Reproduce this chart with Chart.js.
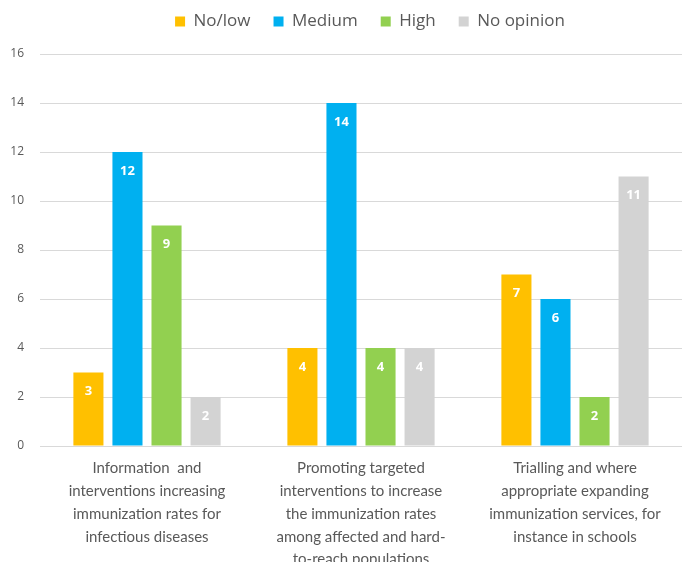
<!DOCTYPE html>
<html>
<head>
<meta charset="utf-8">
<script src="https://cdn.jsdelivr.net/npm/chart.js@4"></script>
<style>
  html, body { margin: 0; padding: 0; background: #fff; }
  #wrap { width: 682px; height: 562px; }
</style>
</head>
<body>
<div id="wrap"><canvas id="chart" width="682" height="562"></canvas></div>
<script>
const categories = [
  ['Information  and', 'interventions increasing', 'immunization rates for', 'infectious diseases'],
  ['Promoting targeted', 'interventions to increase', 'the immunization rates', 'among affected and hard-', 'to-reach populations'],
  ['Trialling and where', 'appropriate expanding', 'immunization services, for', 'instance in schools']
];
const seriesNames = ['No/low', 'Medium', 'High', 'No opinion'];
const noLow = [3, 4, 7];
const medium = [12, 14, 6];
const high = [9, 4, 2];
const noOpinion = [2, 4, 11];
const yTicks = [0, 2, 4, 6, 8, 10, 12, 14, 16];

const colors = ['#FFC000', '#00B0F0', '#92D050', '#D3D3D3'];
const textGrey = '#595959';

// white value labels just inside the top of each bar
const barValues = {
  id: 'barValues',
  afterDatasetsDraw(chart) {
    const ctx = chart.ctx;
    ctx.save();
    ctx.font = 'bold 13px "Open Sans", sans-serif';
    ctx.fillStyle = '#fff';
    ctx.textAlign = 'center';
    ctx.textBaseline = 'middle';
    chart.data.datasets.forEach((ds, i) => {
      chart.getDatasetMeta(i).data.forEach((bar, j) => {
        ctx.fillText(ds.data[j], bar.x, bar.y + 19);
      });
    });
    ctx.restore();
  }
};

// extra room under the legend, and legend nudged a bit to the right
const legendGap = {
  id: 'legendGap',
  beforeInit(chart) {
    const fit = chart.legend.fit;
    chart.legend.fit = function () {
      fit.bind(chart.legend)();
      this.height += 14;
    };
  },
  afterLayout(chart) {
    chart.legend.left += 29;
    chart.legend.right += 29;
  }
};

new Chart(document.getElementById('chart'), {
  type: 'bar',
  data: {
    labels: categories,
    datasets: [noLow, medium, high, noOpinion].map((d, i) => ({
      label: seriesNames[i],
      data: d,
      backgroundColor: colors[i],
      categoryPercentage: 0.73,
      barPercentage: 0.77
    }))
  },
  options: {
    responsive: false,
    animation: false,
    layout: { padding: { top: -10, right: 0, left: 0, bottom: 0 } },
    plugins: {
      legend: {
        position: 'top',
        labels: {
          boxWidth: 10,
          boxHeight: 10,
          padding: 23,
          color: textGrey,
          font: { family: '"Open Sans", sans-serif', size: 17 }
        }
      },
      tooltip: { enabled: false }
    },
    scales: {
      x: {
        grid: { display: false },
        border: { display: false },
        ticks: {
          color: textGrey,
          maxRotation: 0,
          autoSkip: false,
          padding: 3,
          font: { family: 'Lato, sans-serif', size: 15, lineHeight: 1.52 }
        },
        afterFit(scale) { scale.height = 116; }
      },
      y: {
        min: 0,
        max: 16,
        afterBuildTicks(scale) { scale.ticks = yTicks.map(v => ({ value: v })); },
        grid: { color: '#D9D9D9', drawTicks: false },
        border: { display: false },
        ticks: {
          color: textGrey,
          padding: 16,
          font: { family: '"Open Sans", sans-serif', size: 12 }
        },
        afterFit(scale) { scale.width = 40; }
      }
    }
  },
  plugins: [barValues, legendGap]
});
</script>
</body>
</html>
